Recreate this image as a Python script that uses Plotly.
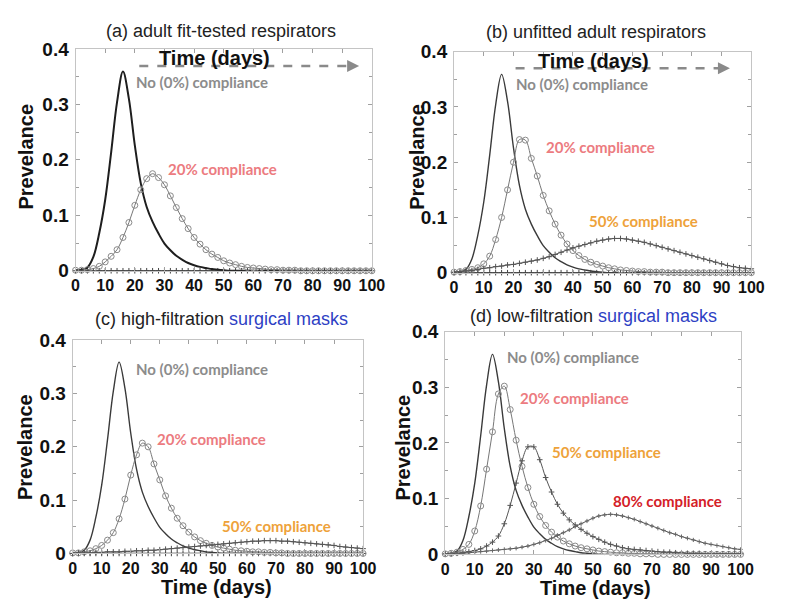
import plotly.graph_objects as go

# ---------------- data ----------------
DAYS = list(range(0, 101, 2))

NO_COMPLIANCE = [0.001, 0.002, 0.006, 0.025, 0.068, 0.128, 0.213, 0.304, 0.359, 0.310,
                 0.226, 0.158, 0.115, 0.088, 0.067, 0.049, 0.037, 0.027, 0.020, 0.014,
                 0.010, 0.007, 0.005, 0.003, 0.002, 0.001,
                 0, 0, 0, 0, 0, 0, 0, 0, 0, 0, 0, 0, 0, 0, 0, 0, 0, 0, 0, 0, 0, 0, 0, 0, 0]

ZERO_PREVALENCE = [0] * 51

A_20 = [0.001, 0.001, 0.002, 0.004, 0.008, 0.016, 0.026, 0.038, 0.060, 0.087,
        0.118, 0.146, 0.166, 0.175, 0.168, 0.155, 0.135, 0.114, 0.094, 0.076,
        0.060, 0.048, 0.038, 0.030, 0.024, 0.018, 0.014, 0.011, 0.008, 0.006,
        0.005, 0.004, 0.003, 0.002, 0.002, 0.001, 0.001, 0.001,
        0, 0, 0, 0, 0, 0, 0, 0, 0, 0, 0, 0, 0]

B_20 = [0.001, 0.002, 0.004, 0.006, 0.009, 0.016, 0.030, 0.060, 0.100, 0.150,
        0.200, 0.241, 0.240, 0.207, 0.175, 0.140, 0.112, 0.088, 0.068, 0.052,
        0.040, 0.031, 0.024, 0.019, 0.015, 0.012, 0.009, 0.007, 0.005, 0.004,
        0.003, 0.002, 0.002, 0.001, 0.001, 0.001,
        0, 0, 0, 0, 0, 0, 0, 0, 0, 0, 0, 0, 0, 0, 0]

B_50 = [0.001, 0.002, 0.003, 0.004, 0.006, 0.008, 0.009, 0.011, 0.012, 0.014,
        0.015, 0.017, 0.019, 0.021, 0.023, 0.026, 0.029, 0.033, 0.037, 0.041,
        0.045, 0.048, 0.051, 0.054, 0.057, 0.059, 0.061, 0.062, 0.062, 0.061,
        0.059, 0.057, 0.055, 0.052, 0.049, 0.046, 0.043, 0.040, 0.037, 0.034,
        0.031, 0.028, 0.025, 0.022, 0.019, 0.016, 0.013, 0.011, 0.009, 0.008, 0.007]

C_20 = [0.001, 0.001, 0.003, 0.005, 0.009, 0.015, 0.025, 0.039, 0.065, 0.102,
        0.147, 0.185, 0.207, 0.200, 0.168, 0.138, 0.108, 0.085, 0.066, 0.052,
        0.040, 0.031, 0.024, 0.019, 0.015, 0.012, 0.010, 0.008, 0.006, 0.005,
        0.004, 0.003, 0.003, 0.002, 0.002, 0.001, 0.001,
        0, 0, 0, 0, 0, 0, 0, 0, 0, 0, 0, 0, 0, 0]

C_50 = [0.000, 0.001, 0.001, 0.001, 0.002, 0.002, 0.003, 0.003, 0.003, 0.004,
        0.004, 0.005, 0.005, 0.006, 0.006, 0.007, 0.008, 0.009, 0.010, 0.011,
        0.012, 0.013, 0.014, 0.015, 0.016, 0.017, 0.018, 0.019, 0.020, 0.021,
        0.022, 0.023, 0.023, 0.024, 0.024, 0.024, 0.023, 0.023, 0.022, 0.021,
        0.020, 0.019, 0.018, 0.017, 0.016, 0.015, 0.013, 0.012, 0.011, 0.010, 0.009]

D_20 = [0.001, 0.002, 0.004, 0.009, 0.018, 0.042, 0.087, 0.153, 0.220, 0.288,
        0.302, 0.260, 0.205, 0.158, 0.120, 0.090, 0.068, 0.052, 0.040, 0.031,
        0.024, 0.019, 0.015, 0.012, 0.010, 0.008, 0.006, 0.005, 0.004, 0.003,
        0.003, 0.002, 0.002, 0.001, 0.001, 0.001,
        0, 0, 0, 0, 0, 0, 0, 0, 0, 0, 0, 0, 0, 0, 0]

D_50 = [0.001, 0.001, 0.002, 0.003, 0.005, 0.007, 0.010, 0.015, 0.022, 0.033,
        0.055, 0.088, 0.128, 0.168, 0.193, 0.193, 0.170, 0.138, 0.112, 0.090,
        0.074, 0.062, 0.053, 0.045, 0.038, 0.032, 0.027, 0.022, 0.018, 0.015,
        0.012, 0.010, 0.009, 0.008, 0.007, 0.006, 0.005, 0.004, 0.004, 0.003,
        0.003, 0.002, 0.002, 0.002, 0.001, 0.001, 0.001, 0.001, 0.001, 0.001, 0.001]

D_80 = [0.001, 0.001, 0.002, 0.002, 0.003, 0.004, 0.005, 0.006, 0.007, 0.008,
        0.009, 0.010, 0.011, 0.013, 0.015, 0.018, 0.021, 0.025, 0.029, 0.034,
        0.039, 0.044, 0.050, 0.055, 0.060, 0.065, 0.069, 0.071, 0.072, 0.071,
        0.069, 0.066, 0.063, 0.059, 0.055, 0.051, 0.047, 0.043, 0.039, 0.036,
        0.032, 0.029, 0.026, 0.023, 0.020, 0.018, 0.016, 0.014, 0.012, 0.010, 0.009]

X_TICKS = [0, 10, 20, 30, 40, 50, 60, 70, 80, 90, 100]
Y_TICKS = [0, 0.1, 0.2, 0.3, 0.4]
Y_TICK_LABELS = ["0", "0.1", "0.2", "0.3", "0.4"]

TITLES = ["(a) adult fit-tested respirators",
          "(b) unfitted adult respirators",
          "(c) high-filtration <span style='color:#2e3fc4'>surgical masks</span>",
          "(d) low-filtration <span style='color:#2e3fc4'>surgical masks</span>"]

# ---------------- styling ----------------
PAGE_W, PAGE_H = 787, 612
PAD = 8                      # default page margin around the figure
W, H = PAGE_W - 2 * PAD, PAGE_H - 2 * PAD
FONT = "Liberation Sans, Arial, sans-serif"
LFONT = "Lato, Carlito, Calibri, sans-serif"
GRAY_TXT = "#8c8c8c"
C20 = "#ec7b80"
C50 = "#eea23a"
C80 = "#d42027"


def fx(p):
    return (p - PAD) / W


def fy(p):
    return 1 - (p - PAD) / H


STYLE = {
    "none": dict(mode="lines", line=dict(color="#3a3a3a", width=1.4)),
    "none_a": dict(mode="lines", line=dict(color="#1e1e1e", width=2.0)),
    "p20": dict(mode="lines+markers", line=dict(color="#777777", width=1),
                marker=dict(symbol="circle-open", size=6, color="#8a8a8a", line=dict(width=1))),
    "p50": dict(mode="lines+markers", line=dict(color="#555555", width=1),
                marker=dict(symbol="cross-thin-open", size=4, color="#555555", line=dict(width=1))),
    "p80": dict(mode="lines+markers", line=dict(color="#555555", width=1),
                marker=dict(symbol="cross-thin-open", size=3, color="#666666", line=dict(width=1))),
    "zero": dict(mode="lines+markers", line=dict(color="#333333", width=1.5),
                 marker=dict(symbol="cross-thin-open", size=4, color="#444444", line=dict(width=1))),
}

PANELS = [
    dict(xd=(73, 376), yd=(40, 270), title_xy=(222, 21),
         series=[("zero", ZERO_PREVALENCE), ("none_a", NO_COMPLIANCE), ("p20", A_20)],
         labels=[("No (0%) compliance", 19.8, 0.341, GRAY_TXT), ("20% compliance", 30.4, 0.184, C20)],
         ytitle=(22, 152), xtitle=None, arrow=(21.5, 95.7, 0.369, 47, 0.383)),
    dict(xd=(460, 764), yd=(43, 272), title_xy=(605, 22),
         series=[("zero", ZERO_PREVALENCE), ("none", NO_COMPLIANCE), ("p20", B_20), ("p50", B_50)],
         labels=[("No (0%) compliance", 20.2, 0.342, GRAY_TXT), ("20% compliance", 30.1, 0.227, C20),
                 ("50% compliance", 44.8, 0.094, C50)],
         ytitle=(422, 152), xtitle=None, arrow=(20.7, 92.8, 0.37, 47, 0.384)),
    dict(xd=(70, 367), yd=(342, 563), title_xy=(222, 320),
         series=[("zero", ZERO_PREVALENCE), ("none", NO_COMPLIANCE), ("p20", C_20), ("p50", C_50)],
         labels=[("No (0%) compliance", 21.2, 0.346, GRAY_TXT), ("20% compliance", 28.3, 0.215, C20),
                 ("50% compliance", 50.7, 0.052, C50)],
         ytitle=(22, 453), xtitle=(217, 598), arrow=None),
    dict(xd=(451, 753), yd=(333, 564), title_xy=(603, 317),
         series=[("none", NO_COMPLIANCE), ("p20", D_20), ("p50", D_50), ("p80", D_80)],
         labels=[("No (0%) compliance", 20.1, 0.355, GRAY_TXT), ("20% compliance", 24.7, 0.28, C20),
                 ("50% compliance", 35.5, 0.184, C50), ("80% compliance", 56.2, 0.095, C80)],
         ytitle=(408, 453), xtitle=(605, 599), arrow=None),
]

fig = go.Figure()
annotations = []
shapes = []
layout = {}

for i, p in enumerate(PANELS):
    n = "" if i == 0 else str(i + 1)
    xa, ya = "x" + n, "y" + n
    for kind, vals in p["series"]:
        fig.add_trace(go.Scatter(x=DAYS, y=vals, xaxis=xa, yaxis=ya, showlegend=False,
                                 line_shape="spline", hoverinfo="skip", cliponaxis=False,
                                 **STYLE[kind]))
    layout["xaxis" + n] = dict(
        domain=[fx(p["xd"][0]), fx(p["xd"][1])], range=[0, 100], anchor=ya,
        tickvals=X_TICKS, ticks="inside", ticklen=4, tickcolor="#a0a0a0",
        showline=True, mirror="ticks", linecolor="#c4c4c4", linewidth=1,
        showgrid=False, zeroline=False, ticklabelstandoff=0,
        tickfont=dict(family=FONT, size=16, color="#111111", weight="bold"))
    layout["yaxis" + n] = dict(
        domain=[fy(p["yd"][1]), fy(p["yd"][0])], range=[0, 0.4], anchor=xa,
        tickvals=Y_TICKS, ticktext=Y_TICK_LABELS, ticks="inside", ticklen=4, tickcolor="#a0a0a0",
        minor=dict(dtick=0.05, ticks="inside", ticklen=3, tickcolor="#a0a0a0"),
        showline=True, mirror="ticks", linecolor="#c4c4c4", linewidth=1,
        showgrid=False, zeroline=False, ticklabelstandoff=2,
        tickfont=dict(family=FONT, size=19, color="#111111", weight="bold"))

    # panel title
    annotations.append(dict(text=TITLES[i], x=fx(p["title_xy"][0]), y=fy(p["title_xy"][1]),
                            xref="paper", yref="paper", showarrow=False,
                            xanchor="center", yanchor="middle",
                            font=dict(family=FONT, size=18, color="#222222")))
    # y title
    annotations.append(dict(text="Prevelance", x=fx(p["ytitle"][0]), y=fy(p["ytitle"][1]),
                            xref="paper", yref="paper", showarrow=False, textangle=-90,
                            xanchor="center", yanchor="middle",
                            font=dict(family=FONT, size=20, color="#111111", weight="bold")))
    if p["xtitle"]:
        annotations.append(dict(text="Time (days)", x=fx(p["xtitle"][0]), y=fy(p["xtitle"][1]),
                                xref="paper", yref="paper", showarrow=False,
                                xanchor="center", yanchor="middle",
                                font=dict(family=FONT, size=20, color="#111111", weight="bold")))
    # curve labels
    for txt, lx, ly, col in p["labels"]:
        annotations.append(dict(text=txt, x=lx, y=ly, xref=xa, yref=ya, showarrow=False,
                                xanchor="left", yanchor="middle",
                                font=dict(family=LFONT, size=15, color=col, weight="bold")))
    # time arrow
    if p["arrow"]:
        x0, x1, yv, tx, ty = p["arrow"]
        shapes.append(dict(type="line", xref=xa, yref=ya, x0=x0, x1=x1 - 2, y0=yv, y1=yv,
                           line=dict(color="#8a8a8a", width=2.5, dash="dash")))
        annotations.append(dict(text="", x=x1, y=yv, xref=xa, yref=ya, ax=-10, ay=0,
                                showarrow=True, arrowhead=2, arrowsize=1.2, arrowwidth=2,
                                arrowcolor="#8a8a8a"))
        annotations.append(dict(text="Time (days)", x=tx, y=ty, xref=xa, yref=ya, showarrow=False,
                                xanchor="center", yanchor="middle",
                                font=dict(family=FONT, size=20, color="#111111", weight="bold")))

fig.update_layout(width=W, height=H, margin=dict(l=0, r=0, t=0, b=0),
                  paper_bgcolor="white", plot_bgcolor="white",
                  annotations=annotations, shapes=shapes, **layout)

fig.write_html("out.html")
